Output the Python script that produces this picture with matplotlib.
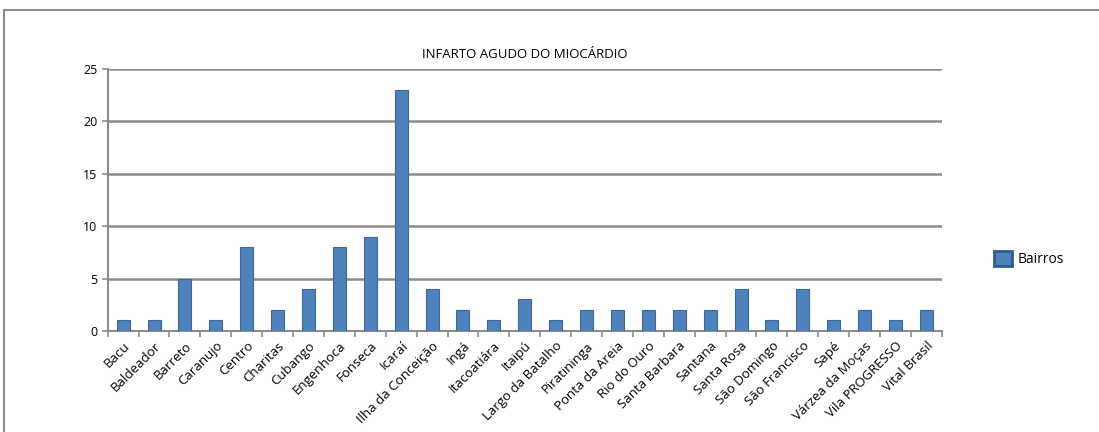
import matplotlib.pyplot as plt
import matplotlib.patches as mpatches
import numpy as np

plt.rcParams['font.family'] = ['Open Sans', 'DejaVu Sans']

bairros = ["Bacu", "Baldeador", "Barreto", "Caranujo", "Centro", "Charitas",
           "Cubango", "Engenhoca", "Fonseca", "Icaraí", "Ilha da Conceição",
           "Ingá", "Itacoatiára", "Itaipú", "Largo da Batalho", "Piratininga",
           "Ponta da Areia", "Rio do Ouro", "Santa Barbara", "Santana",
           "Santa Rosa", "São Domingo", "São Francisco", "Sapé",
           "Várzea da Moças", "Vila PROGRESSO", "Vital Brasil"]
casos = [1, 1, 5, 1, 8, 2, 4, 8, 9, 23, 4, 2, 1, 3, 1, 2, 2, 2, 2, 2,
         4, 1, 4, 1, 2, 1, 2]

fig = plt.figure(figsize=(10.99, 4.32), dpi=100)
ax = fig.add_axes([0.098, 0.234, 0.759, 0.606])

# outer chart frame (cropped on right/bottom)
frame = mpatches.Rectangle((4 / 1099, -0.05), 1.2, 1 - 10 / 432 + 0.05,
                           transform=fig.transFigure, fill=False,
                           edgecolor='#8c8c8c', lw=1.5, clip_on=False)
fig.patches.append(frame)

x = np.arange(len(bairros))
ax.bar(x, casos, width=0.42, color='#4f81bd', edgecolor='#3a679c', lw=0.8,
       label='Bairros', zorder=3)

ax.set_xlim(-0.5, len(bairros) - 0.5)
ax.set_ylim(0, 25)
ax.set_yticks([0, 5, 10, 15, 20, 25])
ax.yaxis.grid(True, color='#8c8c8c', lw=1.8, zorder=0)

ax.set_xticks(x)
ax.set_xticklabels(bairros, rotation=45, ha='right', rotation_mode='anchor',
                   fontsize=9.5)
ax.set_xticks(np.arange(-0.5, len(bairros)), minor=True)
ax.tick_params(axis='x', which='major', length=0, pad=6)
ax.tick_params(axis='x', which='minor', length=4, color='#8c8c8c', width=1.2)
ax.tick_params(axis='y', length=4, color='#8c8c8c', width=1.2, labelsize=9)

for s in ['top', 'right']:
    ax.spines[s].set_visible(False)
for s in ['left', 'bottom']:
    ax.spines[s].set_color('#8c8c8c')
    ax.spines[s].set_linewidth(1.5)

ax.set_title('INFARTO AGUDO DO MIOCÁRDIO', fontsize=9.5, pad=8)

handle = mpatches.FancyBboxPatch((0, 0), 1, 1, boxstyle='round,pad=0.1',
                                 facecolor='#4f81bd', edgecolor='#2f5a8c', lw=2)
leg = fig.legend([handle], ['Bairros'], loc='center left',
                 bbox_to_anchor=(0.893, 0.40), frameon=False,
                 fontsize=10, handlelength=1.3, handleheight=1.3,
                 handletextpad=0.4)

fig.savefig('out.png', dpi=100)
